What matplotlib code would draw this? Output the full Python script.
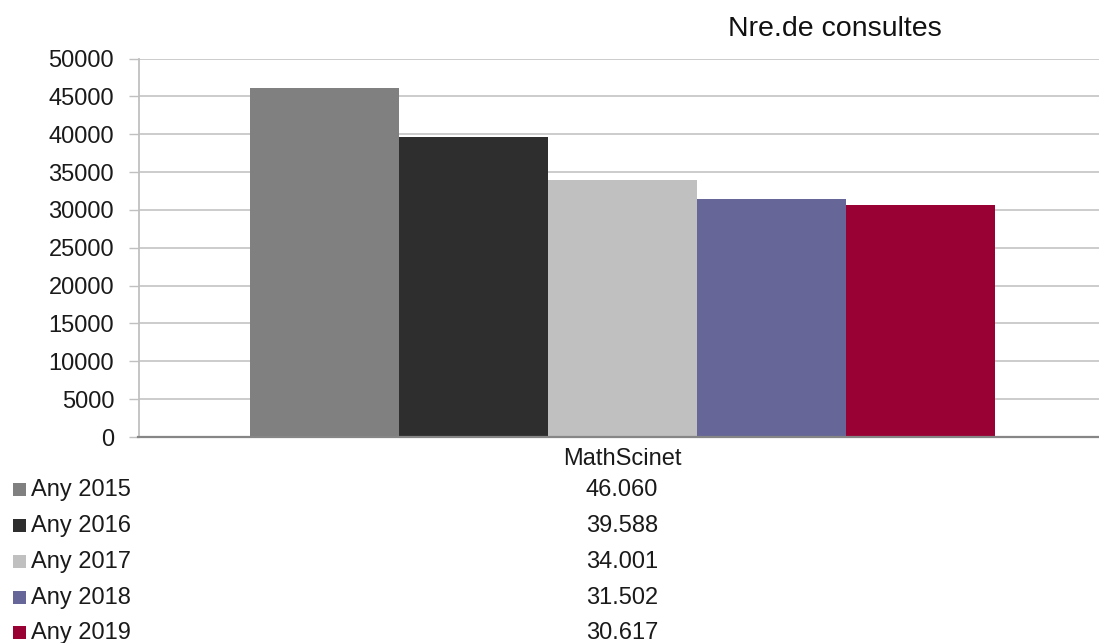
import matplotlib
matplotlib.use("Agg")
import matplotlib.pyplot as plt
import matplotlib.patches as patches

# Data
category = "MathScinet"
series = ["Any 2015", "Any 2016", "Any 2017", "Any 2018", "Any 2019"]
values = [46060, 39588, 34001, 31502, 30617]
colors = ["#808080", "#2e2e2e", "#c0c0c0", "#666699", "#990033"]
yticks = [0, 5000, 10000, 15000, 20000, 25000, 30000, 35000, 40000, 45000, 50000]
title = "Nre.de consultes"

W, H = 1099, 643
plt.rcParams['font.family'] = ['Liberation Sans', 'DejaVu Sans']

fig = plt.figure(figsize=(W / 100, H / 100), dpi=100)


def fx(px):
    return px / W


def fy(py):
    return 1 - py / H


# Plot area (the right edge runs past the canvas, as in the reference)
left, right, top, bottom = 138.5, 1106.5, 58.5, 437
ax = fig.add_axes([fx(left), fy(bottom), fx(right - left), (bottom - top) / H])

n = len(values)
offsets = [i - (n - 1) / 2 for i in range(n)]
ax.bar(offsets, values, width=1.0, color=colors, zorder=3)
ax.set_xlim(-n / 2 - 0.75, n / 2 + 0.75)
ax.set_ylim(0, 50000)

ax.set_yticks(yticks)
ax.set_yticklabels([str(t) for t in yticks])
ax.tick_params(axis='y', length=7.5, width=1, color='#c0c0c0', pad=10,
               labelsize=17, labelcolor='#1a1a1a')
ax.set_xticks([0])
ax.set_xticklabels([category])
ax.tick_params(axis='x', length=0, pad=8, labelsize=17, labelcolor='#1a1a1a')

ax.yaxis.grid(True, color='#c8c8c8', linewidth=1.3, zorder=0)
ax.set_axisbelow(True)
for s in ['top', 'right']:
    ax.spines[s].set_visible(False)
ax.spines['left'].set_color('#c0c0c0')
ax.spines['left'].set_linewidth(1.3)
ax.spines['bottom'].set_color('#868686')
ax.spines['bottom'].set_linewidth(1.6)
ax.spines['bottom'].set_zorder(4)

# Title
fig.text(fx(835), fy(29), title, ha='center', va='center', fontsize=20.5,
         color='#111111')

# Data table with legend keys
row_y = [490, 526, 562, 598, 633]
for name, v, c, y in zip(series, values, colors, row_y):
    fig.patches.append(patches.Rectangle((fx(13), fy(y + 5.5)), 13 / W, 13 / H,
                                         transform=fig.transFigure,
                                         facecolor=c, edgecolor='none'))
    fig.text(fx(31), fy(y), name, ha='left', va='center', fontsize=17,
             color='#1a1a1a')
    fig.text(fx(622), fy(y), f"{v:,}".replace(",", "."), ha='center',
             va='center', fontsize=17, color='#1a1a1a')

fig.savefig("out.png", dpi=100)
